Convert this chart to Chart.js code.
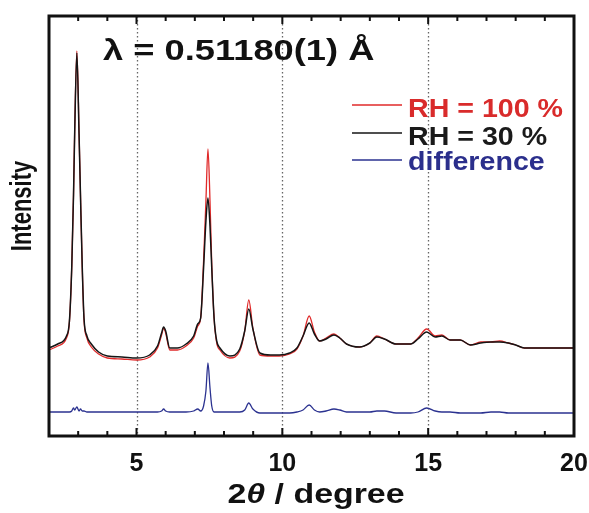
<!DOCTYPE html>
<html>
<head>
<meta charset="utf-8">
<script src="https://cdn.jsdelivr.net/npm/chart.js@4.4.1/dist/chart.umd.min.js"></script>
<style>
  body { margin: 0; background: #fff; }
  canvas { display: block; }
</style>
</head>
<body>
<canvas id="xrdChart" width="589" height="513"></canvas>
<script>
// 2theta grid (degree)
const twoTheta = [
    2.0, 2.3, 2.6, 2.7, 2.78, 2.84, 2.88, 2.955, 3.03, 3.08,
    3.14, 3.2, 3.3, 3.45, 3.7, 4.0, 4.5, 5.0, 5.45, 5.72,
    5.86, 5.93, 6.0, 6.14, 6.4, 6.7, 6.96, 7.1, 7.2, 7.3,
    7.38, 7.45, 7.52, 7.58, 7.66, 7.75, 7.86, 8.2, 8.54, 8.71,
    8.85, 8.99, 9.23, 9.6, 9.9, 10.25, 10.5, 10.71, 10.92, 11.1,
    11.28, 11.5, 11.77, 11.97, 12.2, 12.65, 13.0, 13.24, 13.5, 13.9,
    14.4, 14.65, 14.95, 15.24, 15.47, 15.75, 16.1, 16.45, 16.8, 17.15,
    17.45, 17.75, 18.0, 18.3, 18.9, 19.5, 20.0
];
// intensities (arbitrary units, offset)
const rh100 = [
    86, 90, 98, 114, 169, 241, 304, 385, 304, 240,
    168, 116, 98, 89, 82, 78, 77, 76, 79, 88,
    101, 108, 103, 86, 86, 90, 98, 110, 118, 175,
    235, 287, 235, 172, 118, 93, 86, 78, 85, 105,
    136, 108, 81, 80, 80, 82, 87, 100, 120, 104,
    95, 98, 102, 98, 92, 89, 93, 100, 97, 92,
    92, 98, 107, 100, 101, 96, 96, 91, 94, 94,
    95, 93, 91, 88, 88, 88, 88
];
const rh30 = [
    88, 92, 100, 115, 169, 240, 302, 383, 302, 240,
    169, 118, 100, 92, 84, 80, 79, 78, 81, 90,
    103, 109, 105, 88, 88, 92, 100, 112, 118, 168,
    215, 238, 210, 168, 118, 95, 88, 80, 87, 105,
    127, 107, 83, 81, 81, 83, 88, 100, 113, 102,
    95, 97, 101, 98, 92, 89, 93, 99, 97, 92,
    92, 97, 104, 99, 100, 96, 96, 91, 93, 94,
    94, 93, 91, 88, 88, 88, 88
];
const diff = [
    24, 24, 24, 24, 25, 28, 26, 29, 25, 27,
    25, 25, 24, 24, 24, 24, 24, 24, 24, 24,
    25, 27, 25, 24, 24, 24, 25, 27, 25, 30,
    45, 73, 48, 30, 24, 24, 24, 24, 24, 26,
    33, 27, 23, 23, 23, 23, 24, 26, 31, 26,
    24, 25, 27, 26, 24, 24, 24, 25, 25, 23,
    23, 24, 28, 25, 24, 24, 23, 23, 23, 24,
    24, 23, 23, 23, 23, 23, 23
];
const xTicks = [5, 10, 15, 20];
const seriesLabels = ['RH = 100 %', 'RH = 30 %', 'difference'];
const titleText = 'λ = 0.51180(1) Å';
const xTitle = ['2', 'θ', '/ degree'];
const yTitle = 'Intensity';

const FONT = "'Liberation Sans', Arial, Helvetica, sans-serif";

function toPoints(values) {
    return twoTheta.map((x, i) => ({ x: x, y: values[i] }));
}

// draws text pieces stretched horizontally
function drawPieces(ctx, pieces, x, y, sx, align) {
    let w = 0;
    pieces.forEach(p => { ctx.font = p.font; p.w = ctx.measureText(p.text).width; w += p.w; });
    ctx.save();
    ctx.translate(align === 'center' ? x - w * sx / 2 : x, y);
    ctx.scale(sx, 1);
    ctx.textBaseline = 'alphabetic';
    ctx.textAlign = 'left';
    let cx = 0;
    pieces.forEach(p => {
        ctx.font = p.font;
        ctx.fillStyle = p.color || '#111';
        ctx.fillText(p.text, cx, 0);
        cx += p.w;
    });
    ctx.restore();
}

const framePlugin = {
    id: 'frame',
    beforeDatasetsDraw(chart) {
        const { ctx, chartArea, scales } = chart;
        ctx.save();
        ctx.strokeStyle = '#666';
        ctx.lineWidth = 1.3;
        ctx.setLineDash([1.5, 2.5]);
        [5, 10, 15].forEach(v => {
            const px = Math.round(scales.x.getPixelForValue(v)) + 0.5;
            ctx.beginPath();
            ctx.moveTo(px, chartArea.top);
            ctx.lineTo(px, chartArea.bottom);
            ctx.stroke();
        });
        ctx.restore();
    },
    afterDraw(chart) {
        const { ctx, chartArea, scales } = chart;
        const { left, right, top, bottom } = chartArea;
        ctx.save();
        // ticks, inward
        ctx.strokeStyle = '#111';
        ctx.lineWidth = 2;
        for (let v = 3; v < 20; v++) {
            const px = scales.x.getPixelForValue(v);
            const len = v % 5 === 0 ? 8 : 5;
            ctx.beginPath();
            ctx.moveTo(px, bottom);
            ctx.lineTo(px, bottom - len);
            ctx.moveTo(px, top);
            ctx.lineTo(px, top + len);
            ctx.stroke();
        }
        // frame
        ctx.lineWidth = 3;
        ctx.strokeRect(left, top, right - left, bottom - top);

        // wavelength label
        drawPieces(ctx, [{ text: titleText, font: `bold 30px ${FONT}` }], 103, 60, 1.21, 'left');

        // legend
        const rows = [
            { lineY: 105, textY: 117 },
            { lineY: 133, textY: 145 },
            { lineY: 160, textY: 170 }
        ];
        chart.data.datasets.forEach((ds, i) => {
            const r = rows[i];
            ctx.strokeStyle = ds.borderColor;
            ctx.lineWidth = 1.3;
            ctx.beginPath();
            ctx.moveTo(352, r.lineY);
            ctx.lineTo(402, r.lineY);
            ctx.stroke();
            drawPieces(ctx, [{ text: ds.label, font: `bold 26px ${FONT}`, color: ds.textColor }], 408, r.textY, 1.1, 'left');
        });

        // x axis title
        drawPieces(ctx, [
            { text: xTitle[0], font: `bold 28px ${FONT}` },
            { text: xTitle[1], font: `italic bold 28px ${FONT}` },
            { text: ' ' + xTitle[2], font: `bold 28px ${FONT}` }
        ], 316, 503, 1.21, 'center');

        // y axis title
        ctx.translate(31, 206);
        ctx.rotate(-Math.PI / 2);
        ctx.scale(1, 1.32);
        ctx.font = `bold 22px ${FONT}`;
        ctx.fillStyle = '#111';
        ctx.textAlign = 'center';
        ctx.textBaseline = 'alphabetic';
        ctx.fillText(yTitle, 0, 0);
        ctx.restore();
    }
};

const ctx = document.getElementById('xrdChart').getContext('2d');
new Chart(ctx, {
    type: 'line',
    data: {
        datasets: [{
            label: seriesLabels[0],
            data: toPoints(rh100),
            borderColor: '#e02a2a',
            textColor: '#d92b2b',
            borderWidth: 1.3,
            order: 2
        }, {
            label: seriesLabels[1],
            data: toPoints(rh30),
            borderColor: '#151515',
            textColor: '#1a1a1a',
            borderWidth: 1.5,
            order: 1
        }, {
            label: seriesLabels[2],
            data: toPoints(diff),
            borderColor: '#2b3290',
            textColor: '#2b2f8c',
            borderWidth: 1.3,
            order: 3
        }]
    },
    options: {
        responsive: false,
        animation: false,
        layout: { padding: { left: 49, right: 15, top: 16, bottom: 0 } },
        elements: {
            point: { radius: 0 },
            line: { cubicInterpolationMode: 'monotone', fill: false }
        },
        plugins: {
            legend: { display: false },
            tooltip: { enabled: false }
        },
        scales: {
            x: {
                type: 'linear',
                min: 2,
                max: 20,
                afterBuildTicks: scale => { scale.ticks = xTicks.map(v => ({ value: v })); },
                afterFit: scale => { scale.height = 77; scale.paddingLeft = 0; scale.paddingRight = 0; },
                grid: { display: false },
                border: { display: false },
                ticks: {
                    padding: 5,
                    maxRotation: 0,
                    color: '#111',
                    font: { family: FONT, size: 25, weight: 'bold' }
                }
            },
            y: {
                display: false,
                min: 0,
                max: 420
            }
        }
    },
    plugins: [framePlugin]
});
</script>
</body>
</html>
